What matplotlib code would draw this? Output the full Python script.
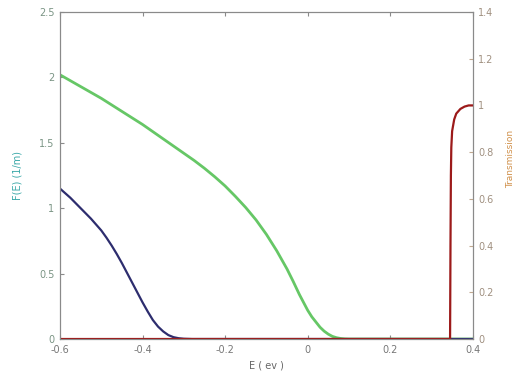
import matplotlib
matplotlib.use("Agg")
import matplotlib.pyplot as plt

# green curve (left axis)
e_green = [-0.6, -0.575, -0.55, -0.525, -0.5, -0.475, -0.45, -0.425, -0.4, -0.375,
           -0.35, -0.325, -0.3, -0.275, -0.25, -0.225, -0.2, -0.175, -0.15, -0.125,
           -0.1, -0.075, -0.05, -0.035, -0.02, -0.01, 0.0, 0.01, 0.02, 0.03,
           0.04, 0.05, 0.06, 0.07, 0.08, 0.09, 0.1, 0.4]
f_green = [2.02, 1.975, 1.93, 1.885, 1.84, 1.79, 1.74, 1.69, 1.64, 1.585,
           1.53, 1.475, 1.42, 1.365, 1.305, 1.24, 1.17, 1.09, 1.005, 0.91,
           0.80, 0.675, 0.535, 0.44, 0.34, 0.28, 0.22, 0.17, 0.13, 0.09,
           0.06, 0.037, 0.02, 0.01, 0.004, 0.001, 0.0, 0.0]

# dark blue curve (left axis)
e_blue = [-0.6, -0.5875, -0.575, -0.5625, -0.55, -0.5375, -0.525, -0.5125, -0.5,
          -0.4875, -0.475, -0.4625, -0.45, -0.4375, -0.425, -0.4125, -0.4, -0.3875,
          -0.375, -0.3625, -0.35, -0.3375, -0.325, -0.3125, -0.3, -0.28, 0.4]
f_blue = [1.15, 1.115, 1.08, 1.04, 1.00, 0.96, 0.92, 0.875, 0.83,
          0.775, 0.715, 0.65, 0.58, 0.505, 0.43, 0.355, 0.28, 0.21,
          0.145, 0.095, 0.058, 0.03, 0.014, 0.006, 0.002, 0.0, 0.0]

# transmission (right axis)
e_trans = [-0.6, 0.345, 0.346, 0.347, 0.348, 0.35, 0.355, 0.36, 0.37, 0.38, 0.39, 0.4]
t_trans = [0.0, 0.0, 0.4, 0.7, 0.82, 0.89, 0.94, 0.965, 0.985, 0.995, 1.0, 1.0]

x_ticks = [-0.6, -0.4, -0.2, 0, 0.2, 0.4]
x_labels = ['-0.6', '-0.4', '-0.2', '0', '0.2', '0.4']
left_ticks = [0, 0.5, 1, 1.5, 2, 2.5]
left_labels = ['0', '0.5', '1', '1.5', '2', '2.5']
right_ticks = [0, 0.2, 0.4, 0.6, 0.8, 1, 1.2, 1.4]
right_labels = ['0', '0.2', '0.4', '0.6', '0.8', '1', '1.2', '1.4']

fig = plt.figure(figsize=(5.15, 3.87), dpi=100)
ax = fig.add_axes([0.1165, 0.124, 0.8015, 0.845])
ax2 = ax.twinx()

ax.plot(e_green, f_green, color='#66c766', lw=2.0)
ax.plot(e_blue, f_blue, color='#2d2d6e', lw=1.6)
ax2.plot(e_trans, t_trans, color='#9c1a1a', lw=1.6)

ax.set_xlim(-0.6, 0.4)
ax.set_ylim(0, 2.5)
ax2.set_ylim(0, 1.4)

ax.set_xticks(x_ticks)
ax.set_xticklabels(x_labels)
ax.set_yticks(left_ticks)
ax.set_yticklabels(left_labels)
ax2.set_yticks(right_ticks)
ax2.set_yticklabels(right_labels)

for a in (ax, ax2):
    for s in a.spines.values():
        s.set_color('#8a8a8a')
        s.set_linewidth(0.8)

ax.tick_params(axis='x', direction='in', top=True, length=3, labelsize=7,
               colors='#8a8a8a', labelcolor='#777777', pad=4)
ax.tick_params(axis='y', direction='in', length=3, labelsize=7,
               colors='#8a8a8a', labelcolor='#7a9484', pad=4)
ax2.tick_params(axis='y', direction='in', length=3, labelsize=7,
                colors='#c0a890', labelcolor='#a09080', pad=4)

ax.set_xlabel('E ( ev )', fontsize=7, color='#666666')
ax.set_ylabel('F(E) (1/m)', fontsize=7, color='#3aa8a8')
ax.yaxis.set_label_coords(-0.09, 0.5)
ax2.set_ylabel('Transmission', fontsize=6.5, color='#d0904a')
ax2.yaxis.set_label_coords(1.081, 0.55)

fig.savefig('out.png', dpi=100)
